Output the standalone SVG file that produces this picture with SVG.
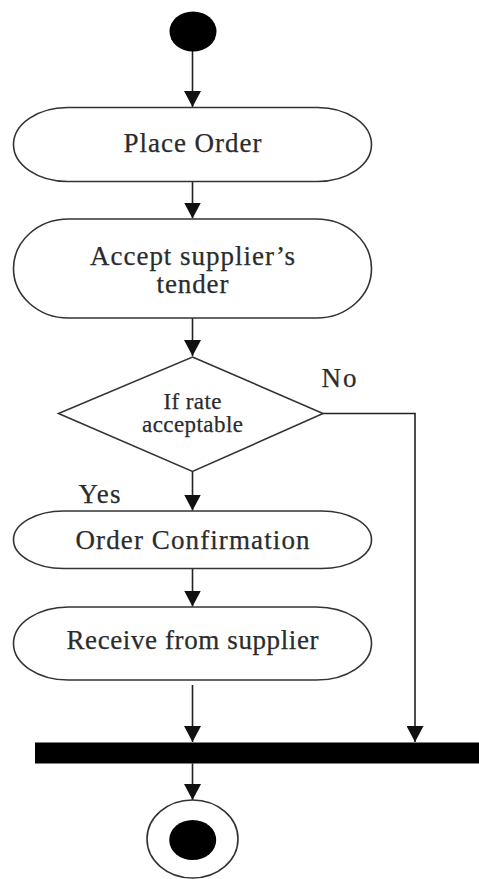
<svg xmlns="http://www.w3.org/2000/svg" width="479" height="879" viewBox="0 0 479 879">
<style>
.box{fill:#fff;stroke:#333;stroke-width:1.6}
.t{font-family:"Liberation Serif","Times New Roman",serif;fill:#2b2b2b;text-anchor:middle;stroke:#2b2b2b;stroke-width:0.25}
.lbl{font-family:"Liberation Serif","Times New Roman",serif;fill:#2b2b2b;stroke:#2b2b2b;stroke-width:0.25}
.c{fill:none;stroke:#222;stroke-width:1.6}
</style>
<defs>
<marker id="ah" markerUnits="userSpaceOnUse" markerWidth="18" markerHeight="17" refX="16" refY="8.5" orient="auto">
<path d="M0,0 L16,8.5 L0,17 Z" fill="#111"/>
</marker>
</defs>
<rect width="479" height="879" fill="#fff"/>
<g id="connectors">
<path class="c" d="M192.5,51 V107" marker-end="url(#ah)"/>
<path class="c" d="M192.5,181.5 V218.5" marker-end="url(#ah)"/>
<path class="c" d="M192.5,318 V356" marker-end="url(#ah)"/>
<path class="c" d="M192.5,472 V510.5" marker-end="url(#ah)"/>
<path class="c" d="M192.5,568.5 V606.5" marker-end="url(#ah)"/>
<path class="c" d="M192.5,685 V742" marker-end="url(#ah)"/>
<path class="c" d="M323,413.5 H415 V742" marker-end="url(#ah)"/>
<path class="c" d="M192.5,763.5 V800" marker-end="url(#ah)"/>
</g>
<g id="start">
<ellipse cx="193" cy="31.5" rx="23.5" ry="20" fill="#000"/>
</g>
<g id="place-order">
<rect class="box" x="13.5" y="107.5" width="358" height="74" rx="54" ry="37"/>
<text class="t" x="192.5" y="151.5" font-size="27" textLength="138" lengthAdjust="spacing">Place Order</text>
</g>
<g id="accept-tender">
<rect class="box" x="13.5" y="219" width="358" height="99" rx="55" ry="49.5"/>
<text class="t" x="192.5" y="265" font-size="27" textLength="205" lengthAdjust="spacing">Accept supplier’s</text>
<text class="t" x="192.5" y="292.5" font-size="27" textLength="72" lengthAdjust="spacing">tender</text>
</g>
<g id="decision">
<polygon class="box" points="192.5,357 323,413.5 192.5,471.5 58.5,413.5"/>
<text class="t" x="192.5" y="408.5" font-size="23" textLength="58" lengthAdjust="spacing">If rate</text>
<text class="t" x="192.5" y="432" font-size="23" textLength="101" lengthAdjust="spacing">acceptable</text>
</g>
<g id="label-no"><text class="lbl" x="321.5" y="386.5" font-size="27" textLength="35" lengthAdjust="spacing">No</text></g>
<g id="label-yes"><text class="lbl" x="78.5" y="503" font-size="27" textLength="42" lengthAdjust="spacing">Yes</text></g>
<g id="order-confirmation">
<rect class="box" x="13.5" y="511" width="358" height="57.5" rx="50" ry="28.75"/>
<text class="t" x="192.5" y="548.5" font-size="27" textLength="234" lengthAdjust="spacing">Order Confirmation</text>
</g>
<g id="receive">
<rect class="box" x="13.5" y="607" width="358" height="73" rx="55" ry="36.5"/>
<text class="t" x="192.5" y="648.5" font-size="27" textLength="252" lengthAdjust="spacing">Receive from supplier</text>
</g>
<g id="join-bar">
<rect x="35" y="742.5" width="444" height="21" fill="#000"/>
</g>
<g id="end">
<ellipse cx="192.5" cy="839" rx="45.5" ry="39" fill="#fff" stroke="#333" stroke-width="1.6"/>
<ellipse cx="192.7" cy="840" rx="23.5" ry="20" fill="#000"/>
</g>
</svg>
